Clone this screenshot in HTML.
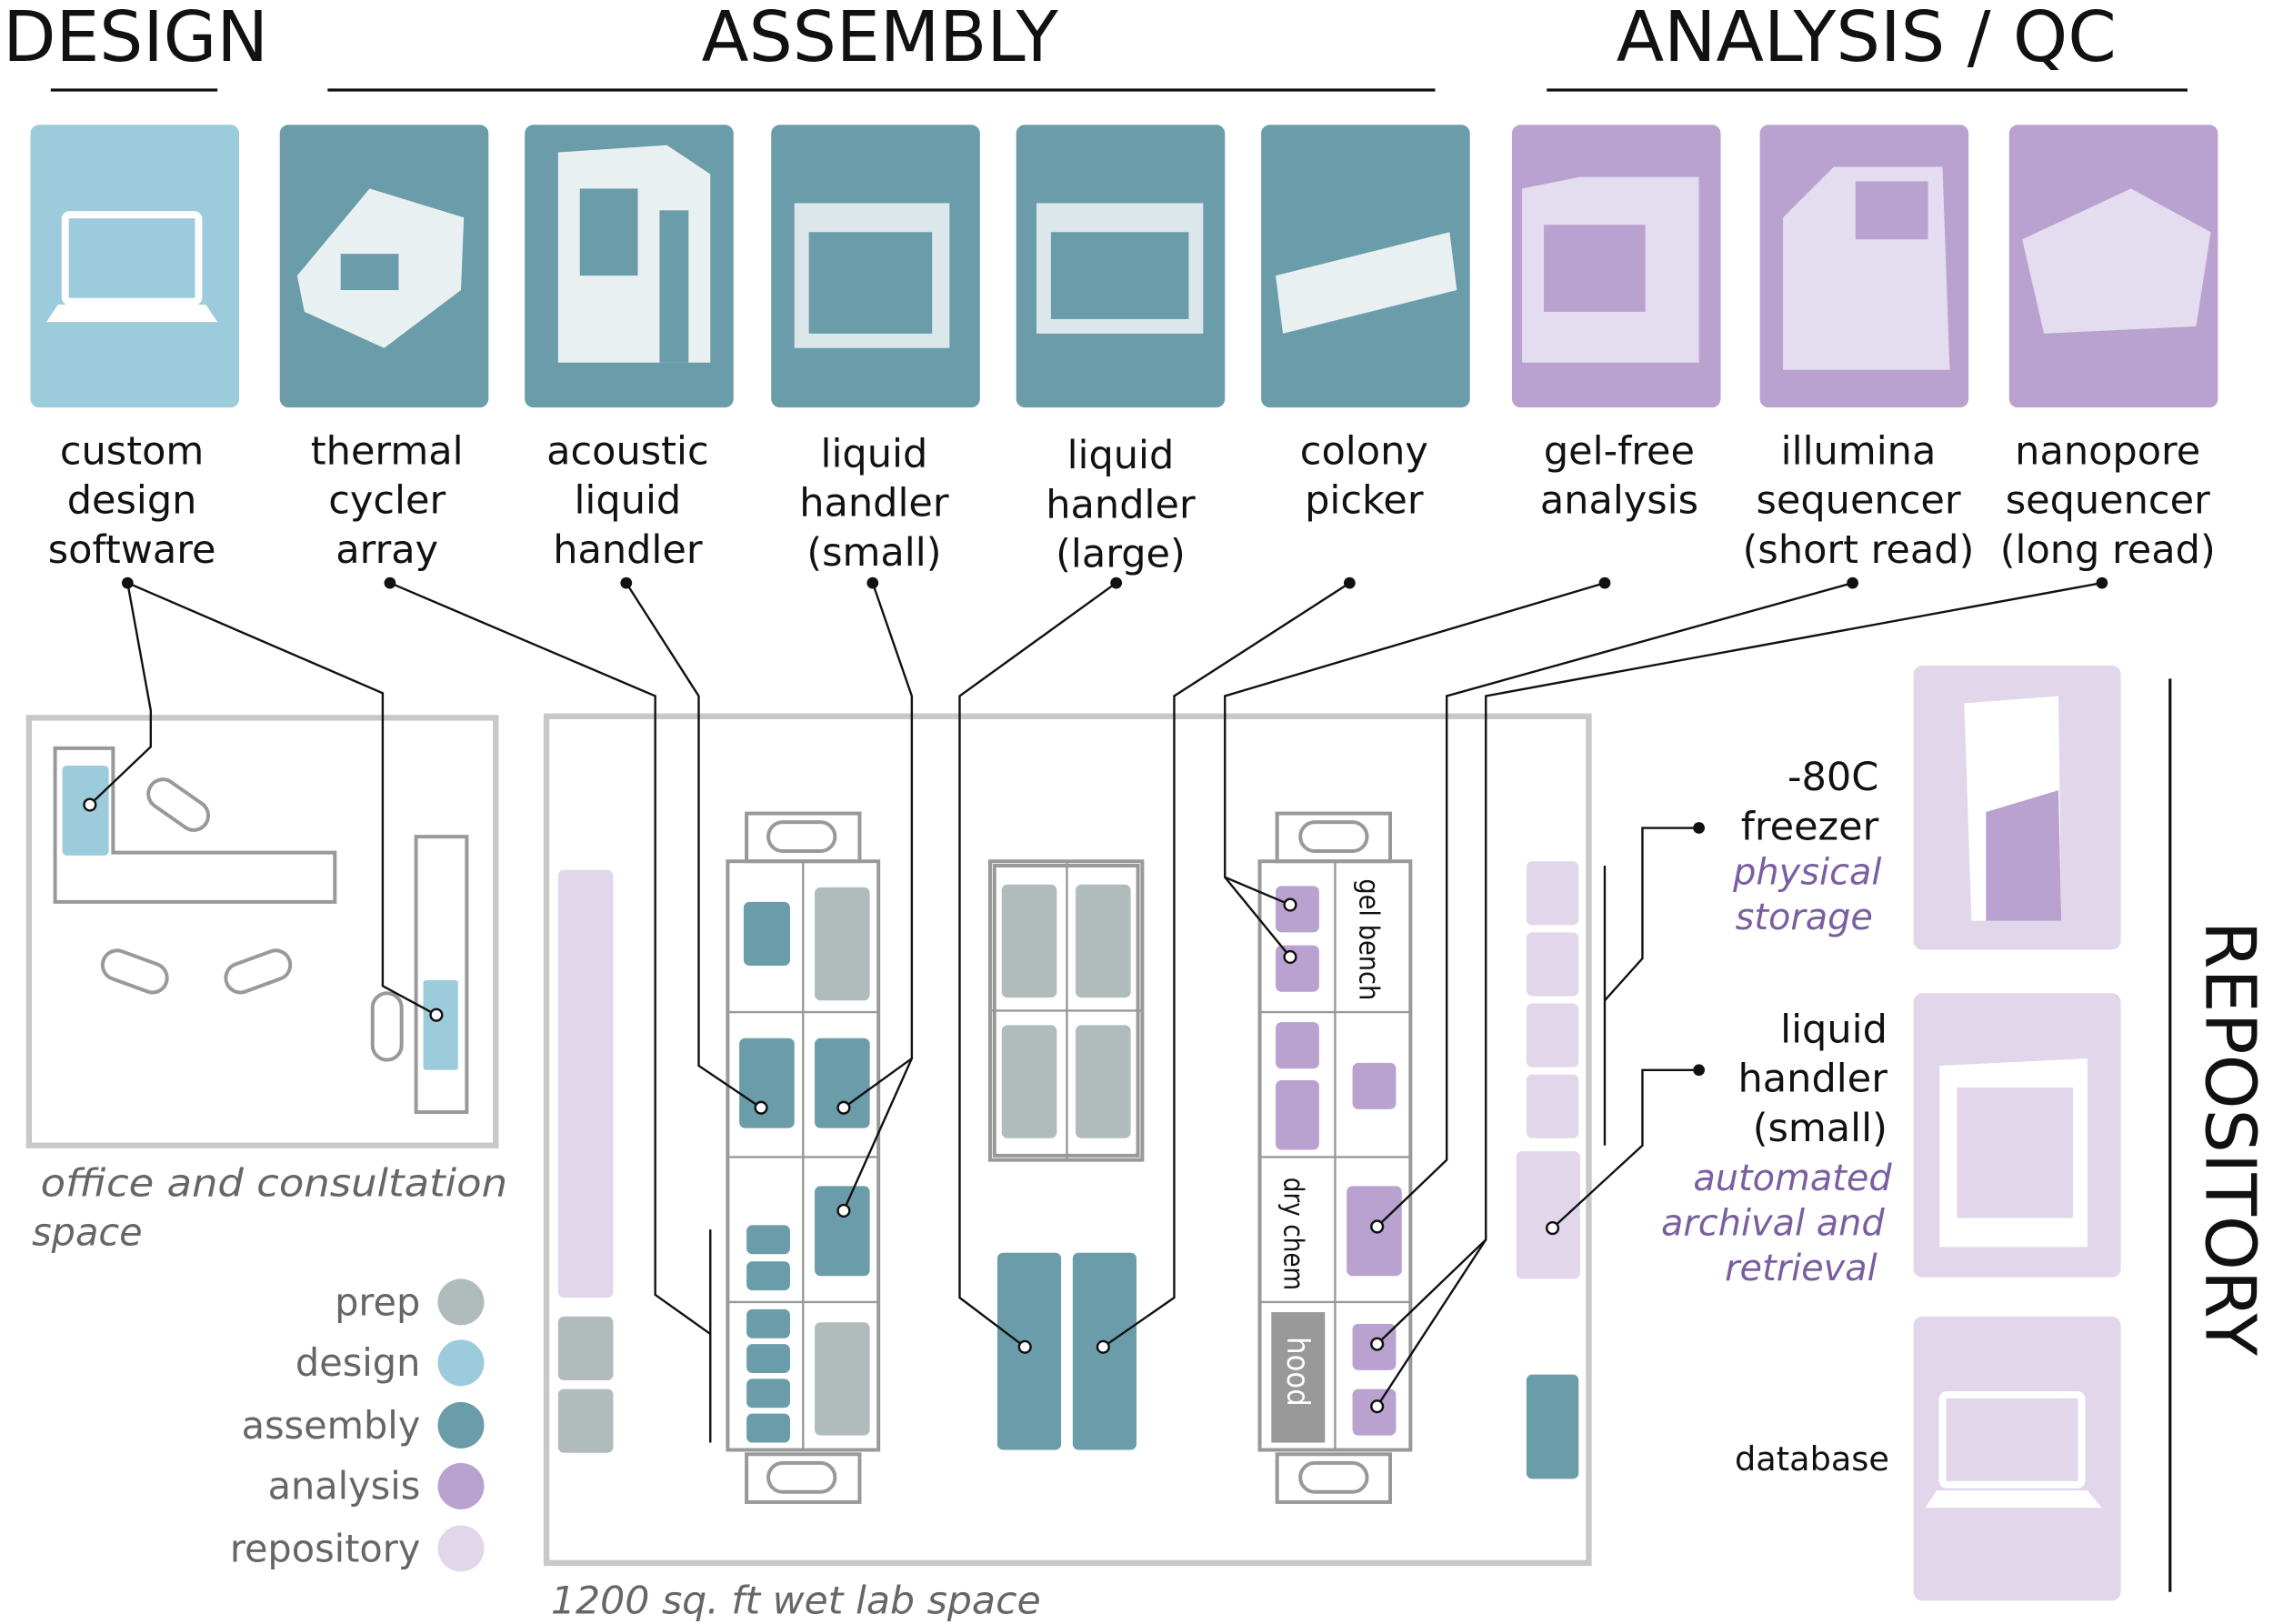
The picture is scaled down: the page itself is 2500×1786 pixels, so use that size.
<!DOCTYPE html>
<html><head><meta charset="utf-8"><style>
html,body{margin:0;padding:0;background:#fff;}
svg{display:block;}
text{font-family:"DejaVu Sans","Liberation Sans",sans-serif;}
</style></head><body>
<svg width="2500" height="1786" viewBox="0 0 1568 1120" xmlns="http://www.w3.org/2000/svg">
<!-- headers -->
<g font-size="48" fill="#111" style="font-family:'DejaVu Sans Condensed','Liberation Sans',sans-serif">
<text x="2" y="42" textLength="183" lengthAdjust="spacingAndGlyphs">DESIGN</text>
<text x="484" y="42" textLength="246" lengthAdjust="spacingAndGlyphs">ASSEMBLY</text>
<text x="1115" y="42" textLength="345" lengthAdjust="spacingAndGlyphs">ANALYSIS / QC</text>
</g>
<g stroke="#111" stroke-width="2">
<line x1="35" y1="62" x2="150" y2="62"/><line x1="226" y1="62" x2="990" y2="62"/><line x1="1067" y1="62" x2="1509" y2="62"/>
</g>
<!-- cards -->
<rect x="21" y="86" width="144" height="195" rx="6" fill="#9ccbdb"/>
<g fill="#6a9ca9">
<rect x="193" y="86" width="144" height="195" rx="6"/><rect x="362" y="86" width="144" height="195" rx="6"/>
<rect x="532" y="86" width="144" height="195" rx="6"/><rect x="701" y="86" width="144" height="195" rx="6"/>
<rect x="870" y="86" width="144" height="195" rx="6"/></g>
<g fill="#b9a2cf">
<rect x="1043" y="86" width="144" height="195" rx="6"/><rect x="1214" y="86" width="144" height="195" rx="6"/>
<rect x="1386" y="86" width="144" height="195" rx="6"/></g>
<!-- icons -->
<g fill="none" stroke="#fff" stroke-width="5">
<rect x="45" y="148" width="92" height="60" rx="3"/></g>
<path d="M32 222 L150 222 L142 210 L40 210 Z" fill="#fff"/>
<g fill="#e8f0f2">
<path d="M205 190 L255 130 L320 150 L318 200 L265 240 L210 215 Z"/>
<path d="M385 105 L460 100 L490 120 L490 250 L385 250 Z"/>
<path d="M548 140 L655 140 L655 240 L548 240 Z" opacity="0.9"/>
<path d="M715 140 L830 140 L830 230 L715 230 Z" opacity="0.9"/>
<path d="M880 190 L1000 160 L1005 200 L885 230 Z"/>
</g>
<g fill="#6a9ca9">
<rect x="400" y="130" width="40" height="60"/><rect x="455" y="145" width="20" height="105"/>
<rect x="558" y="160" width="85" height="70"/><rect x="725" y="160" width="95" height="60"/>
<rect x="235" y="175" width="40" height="25"/></g>
<g fill="#e4dcef">
<path d="M1050 130 L1090 122 L1172 122 L1172 250 L1050 250 Z"/>
<path d="M1230 150 L1265 115 L1340 115 L1345 255 L1230 255 Z"/>
<path d="M1395 165 L1470 130 L1525 160 L1515 225 L1410 230 Z"/>
</g>
<g fill="#b9a2cf"><rect x="1065" y="155" width="70" height="60"/><rect x="1280" y="125" width="50" height="40"/></g>
<!-- card labels -->
<g font-size="27" fill="#111" text-anchor="middle">
<text x="91" y="320">custom</text><text x="91" y="354">design</text><text x="91" y="388">software</text>
<text x="267" y="320">thermal</text><text x="267" y="354">cycler</text><text x="267" y="388">array</text>
<text x="433" y="320">acoustic</text><text x="433" y="354">liquid</text><text x="433" y="388">handler</text>
<text x="603" y="322">liquid</text><text x="603" y="356">handler</text><text x="603" y="390">(small)</text>
<text x="773" y="323">liquid</text><text x="773" y="357">handler</text><text x="773" y="391">(large)</text>
<text x="941" y="320">colony</text><text x="941" y="354">picker</text>
<text x="1117" y="320">gel-free</text><text x="1117" y="354">analysis</text>
<text x="1282" y="320">illumina</text><text x="1282" y="354">sequencer</text><text x="1282" y="388">(short read)</text>
<text x="1454" y="320">nanopore</text><text x="1454" y="354">sequencer</text><text x="1454" y="388">(long read)</text>
</g>
<!-- office -->
<g fill="none" stroke="#c8c8c8" stroke-width="4"><rect x="20" y="495" width="322" height="295"/>
<rect x="377" y="494" width="719" height="584"/></g>
<g fill="none" stroke="#999" stroke-width="2.5">
<path d="M38 516 H78 V588 H231 V622 H38 Z"/>
<rect x="287" y="577" width="35" height="190"/>
<rect x="257" y="685" width="20" height="46" rx="10"/>
<rect x="100" y="545" width="46" height="20" rx="10" transform="rotate(35 123 555)"/>
<rect x="70" y="660" width="46" height="20" rx="10" transform="rotate(20 93 670)"/>
<rect x="155" y="660" width="46" height="20" rx="10" transform="rotate(-20 178 670)"/>
</g>
<rect x="43" y="528" width="32" height="62" rx="3" fill="#9ccbdb"/>
<rect x="292" y="676" width="24" height="62" rx="2" fill="#9ccbdb"/>
<g font-style="italic" fill="#666" font-size="26"><text x="28" y="825" textLength="322" lengthAdjust="spacingAndGlyphs">office and consultation</text><text x="22" y="859">space</text>
<text x="380" y="1113" textLength="338" lengthAdjust="spacingAndGlyphs">1200 sq. ft wet lab space</text></g>
<!-- legend -->
<g font-size="26" fill="#666" text-anchor="end">
<text x="290" y="907">prep</text><text x="290" y="949">design</text><text x="290" y="992">assembly</text>
<text x="290" y="1034">analysis</text><text x="290" y="1077">repository</text></g>
<circle cx="318" cy="898" r="16" fill="#b0bcbb"/><circle cx="318" cy="940" r="16" fill="#9ccbdb"/>
<circle cx="318" cy="983" r="16" fill="#6a9ca9"/><circle cx="318" cy="1025" r="16" fill="#b9a2cf"/>
<circle cx="318" cy="1068" r="16" fill="#e1d6ea"/>
<!-- wet lab left -->
<rect x="385" y="600" width="38" height="295" rx="4" fill="#e1d6ea"/>
<rect x="385" y="908" width="38" height="44" rx="4" fill="#b0bcbb"/><rect x="385" y="958" width="38" height="44" rx="4" fill="#b0bcbb"/>
<!-- benches outlines -->
<g fill="none" stroke="#999" stroke-width="2.5">
<rect x="502" y="594" width="104" height="406"/><rect x="515" y="561" width="78" height="33"/><rect x="515" y="1003" width="78" height="33"/>
<rect x="530" y="567" width="46" height="20" rx="10"/><rect x="530" y="1009" width="46" height="20" rx="10"/>
<rect x="683" y="594" width="105" height="206"/><rect x="686" y="597" width="99" height="200"/>
<rect x="869" y="594" width="104" height="406"/><rect x="881" y="561" width="78" height="33"/><rect x="881" y="1003" width="78" height="33"/>
<rect x="897" y="567" width="46" height="20" rx="10"/><rect x="897" y="1009" width="46" height="20" rx="10"/>
</g>
<g stroke="#999" stroke-width="1.5">
<line x1="554" y1="594" x2="554" y2="1000"/><line x1="502" y1="698" x2="606" y2="698"/><line x1="502" y1="798" x2="606" y2="798"/><line x1="502" y1="898" x2="606" y2="898"/>
<line x1="736" y1="594" x2="736" y2="800"/><line x1="683" y1="697" x2="788" y2="697"/>
<line x1="921" y1="594" x2="921" y2="1000"/><line x1="869" y1="698" x2="973" y2="698"/><line x1="869" y1="798" x2="973" y2="798"/><line x1="869" y1="898" x2="973" y2="898"/>
</g>
<g fill="#6a9ca9">
<rect x="513" y="622" width="32" height="44" rx="4"/><rect x="510" y="716" width="38" height="62" rx="4"/><rect x="562" y="716" width="38" height="62" rx="4"/>
<rect x="562" y="818" width="38" height="62" rx="4"/>
<rect x="515" y="845" width="30" height="20" rx="4"/><rect x="515" y="870" width="30" height="20" rx="4"/>
<rect x="515" y="903" width="30" height="20" rx="4"/><rect x="515" y="927" width="30" height="20" rx="4"/><rect x="515" y="951" width="30" height="20" rx="4"/><rect x="515" y="975" width="30" height="20" rx="4"/>
<rect x="688" y="864" width="44" height="136" rx="4"/><rect x="740" y="864" width="44" height="136" rx="4"/>
<rect x="1053" y="948" width="36" height="72" rx="4"/>
</g>
<g fill="#b0bcbb">
<rect x="562" y="612" width="38" height="78" rx="4"/><rect x="562" y="912" width="38" height="78" rx="4"/>
<rect x="691" y="610" width="38" height="78" rx="4"/><rect x="742" y="610" width="38" height="78" rx="4"/>
<rect x="691" y="707" width="38" height="78" rx="4"/><rect x="742" y="707" width="38" height="78" rx="4"/>
</g>
<g fill="#b9a2cf">
<rect x="880" y="611" width="30" height="32" rx="4"/><rect x="880" y="652" width="30" height="32" rx="4"/>
<rect x="880" y="705" width="30" height="32" rx="4"/><rect x="880" y="745" width="30" height="48" rx="4"/>
<rect x="933" y="733" width="30" height="32" rx="4"/><rect x="929" y="818" width="38" height="62" rx="4"/>
<rect x="933" y="913" width="30" height="32" rx="4"/><rect x="933" y="958" width="30" height="32" rx="4"/>
</g>
<rect x="877" y="905" width="37" height="90" fill="#999"/>
<text transform="translate(888 922) rotate(90)" font-size="21" fill="#fff" textLength="48" lengthAdjust="spacingAndGlyphs">hood</text>
<text transform="translate(938 606) rotate(90)" font-size="19" fill="#111" textLength="84" lengthAdjust="spacingAndGlyphs">gel bench</text>
<text transform="translate(886 812) rotate(90)" font-size="19" fill="#111" textLength="78" lengthAdjust="spacingAndGlyphs">dry chem</text>
<g fill="#e1d6ea">
<rect x="1053" y="594" width="36" height="44" rx="4"/><rect x="1053" y="643" width="36" height="44" rx="4"/>
<rect x="1053" y="692" width="36" height="44" rx="4"/><rect x="1053" y="741" width="36" height="44" rx="4"/>
<rect x="1046" y="794" width="44" height="88" rx="4"/>
<rect x="1320" y="459" width="143" height="196" rx="6"/><rect x="1320" y="685" width="143" height="196" rx="6"/><rect x="1320" y="908" width="143" height="196" rx="6"/>
</g>
<!-- repo icons -->
<path d="M1355 485 L1420 480 L1422 635 L1360 635 Z" fill="#fff"/>
<path d="M1370 560 L1420 545 L1422 635 L1370 635 Z" fill="#b9a2cf"/>
<path d="M1338 735 L1440 730 L1440 860 L1338 860 Z" fill="#fff"/>
<rect x="1350" y="750" width="80" height="90" fill="#e1d6ea"/>
<rect x="1340" y="962" width="96" height="62" rx="3" fill="none" stroke="#fff" stroke-width="5"/>
<path d="M1328 1040 L1450 1040 L1440 1028 L1336 1028 Z" fill="#fff"/>
<!-- right labels -->
<g font-size="27" fill="#111" text-anchor="end">
<text x="1296" y="545">-80C</text><text x="1296" y="579">freezer</text>
<text x="1302" y="719">liquid</text><text x="1302" y="753">handler</text><text x="1302" y="787">(small)</text>
</g>
<g font-size="25" font-style="italic" fill="#7a5fa0" text-anchor="end">
<text x="1298" y="610">physical</text><text x="1292" y="641">storage</text>
<text x="1305" y="821">automated</text><text x="1300" y="852">archival and</text><text x="1295" y="883">retrieval</text>
</g>
<text x="1250" y="1014" font-size="23" fill="#111" text-anchor="middle">database</text>
<text transform="translate(1522 635) rotate(90)" font-size="48" fill="#111" textLength="300" lengthAdjust="spacingAndGlyphs" style="font-family:'DejaVu Sans Condensed','Liberation Sans',sans-serif">REPOSITORY</text>
<line x1="1497" y1="468" x2="1497" y2="1098" stroke="#111" stroke-width="2"/>
<!-- connectors -->
<g fill="none" stroke="#111" stroke-width="1.5">
<polyline points="88,402 104,490 104,515 62,555"/>
<polyline points="88,402 264,478 264,680 301,700"/>
<polyline points="269,402 452,480 452,893 490,920"/>
<line x1="490" y1="848" x2="490" y2="995"/>
<polyline points="432,402 482,480 482,735 525,764"/>
<polyline points="602,402 629,480 629,730 582,764"/>
<polyline points="629,730 582,835"/>
<polyline points="770,402 662,480 662,895 707,929"/>
<polyline points="931,402 810,480 810,895 761,929"/>
<polyline points="1107,402 845,480 845,605 890,624"/>
<polyline points="845,605 890,660"/>
<polyline points="1278,402 998,480 998,800 950,846"/>
<polyline points="1450,402 1025,480 1025,855 950,927"/>
<polyline points="1025,855 950,970"/>
<polyline points="1172,571 1133,571 1133,661 1107,690"/>
<line x1="1107" y1="597" x2="1107" y2="790"/>
<polyline points="1172,738 1133,738 1133,790 1071,847"/>
</g>
<g fill="#111">
<circle cx="88" cy="402" r="4"/><circle cx="269" cy="402" r="4"/><circle cx="432" cy="402" r="4"/><circle cx="602" cy="402" r="4"/>
<circle cx="770" cy="402" r="4"/><circle cx="931" cy="402" r="4"/><circle cx="1107" cy="402" r="4"/><circle cx="1278" cy="402" r="4"/>
<circle cx="1450" cy="402" r="4"/><circle cx="1172" cy="571" r="4"/><circle cx="1172" cy="738" r="4"/>
</g>
<g fill="#fff" stroke="#111" stroke-width="1.5">
<circle cx="62" cy="555" r="4"/><circle cx="301" cy="700" r="4"/><circle cx="525" cy="764" r="4"/><circle cx="582" cy="764" r="4"/>
<circle cx="582" cy="835" r="4"/><circle cx="707" cy="929" r="4"/><circle cx="761" cy="929" r="4"/><circle cx="890" cy="624" r="4"/>
<circle cx="890" cy="660" r="4"/><circle cx="950" cy="846" r="4"/><circle cx="950" cy="927" r="4"/><circle cx="950" cy="970" r="4"/>
<circle cx="1071" cy="847" r="4"/>
</g>
</svg>
</body></html>
